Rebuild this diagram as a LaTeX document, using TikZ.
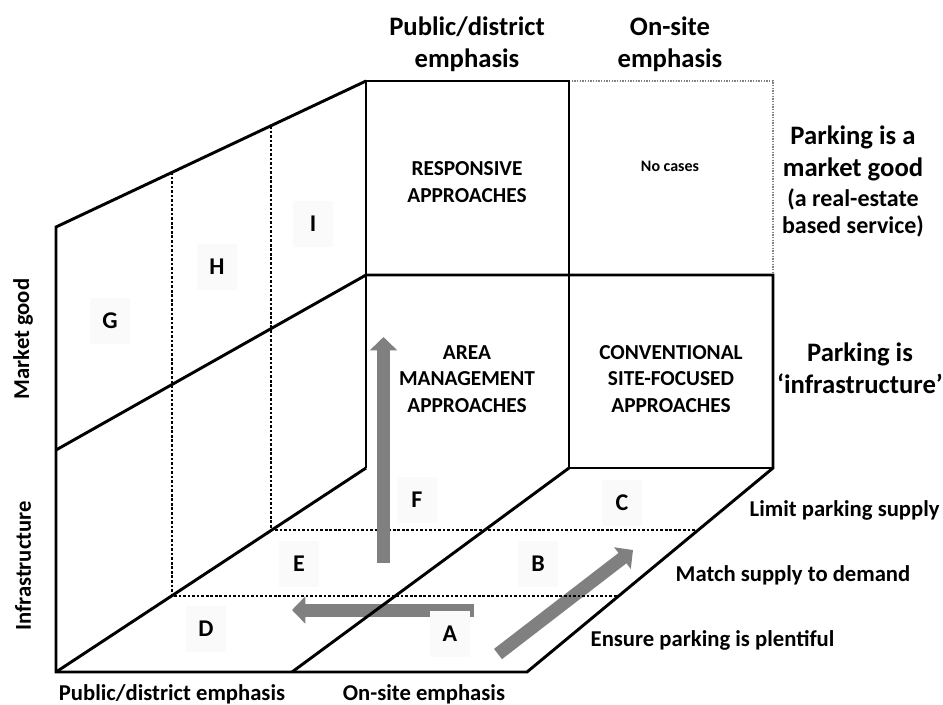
\documentclass[tikz,border=0pt]{standalone}
\usepackage{fontspec}
\setmainfont{Carlito}
\usetikzlibrary{arrows.meta}
\tikzset{
	wall/.style={line width=2.2pt, line join=miter},
	split/.style={line width=1.4pt, dash pattern=on 2pt off 1.4pt},
	faint split/.style={line width=0.8pt, gray, dash pattern=on 1pt off 1pt},
	push/.style={draw=gray, line width=9.75pt, -{Triangle[length=10pt,width=20pt]}},
	letter/.style={fill=gray!4, minimum width=30pt, minimum height=34pt, inner sep=0pt, font=\bfseries\fontsize{18}{20}\selectfont},
	cell/.style={align=center, font=\bfseries\fontsize{16}{20}\selectfont},
	head/.style={align=center, font=\bfseries\fontsize{20}{24}\selectfont},
	sub/.style={align=center, font=\bfseries\fontsize{18}{20}\selectfont},
	axis/.style={font=\bfseries\fontsize{17}{20}\selectfont},
}

\begin{document}
\begin{tikzpicture}[x=0.75pt, y=-0.75pt]
	\useasboundingbox (0,0) rectangle (943,704);
	\coordinate (ftl) at (366,81);
	\coordinate (ftm) at (569,81);
	\coordinate (ftr) at (773,81);
	\coordinate (fml) at (366,275);
	\coordinate (fmm) at (569,275);
	\coordinate (fmr) at (773,275);
	\coordinate (fbl) at (366,468);
	\coordinate (fbm) at (569,468);
	\coordinate (fbr) at (773,468);
	\coordinate (wtl) at (56,227);
	\coordinate (wml) at (56,450);
	\coordinate (wbl) at (56,672);
	\coordinate (gbm) at (292,672);
	\coordinate (gbr) at (527,672);
	\coordinate (lowl) at (172,596);
	\coordinate (lowr) at (619,596);
	\coordinate (lowt) at (172,172);
	\coordinate (highl) at (271,530);
	\coordinate (highr) at (698,530);
	\coordinate (hight) at (271,126);

	\coordinate (west0) at (474,610);
	\coordinate (west1) at (292,610);
	\coordinate (ne0) at (498,654);
	\coordinate (ne1) at (633,550);
	\coordinate (up0) at (383.5,563);
	\coordinate (up1) at (383.5,337);

	\draw[push] (west0) -- (west1);
	\draw[push] (ne0) -- (ne1);

	\draw[split] (lowt) -- (lowl) -- (lowr);
	\draw[split] (hight) -- (highl) -- (highr);
	\draw[faint split] (ftm) -- (ftr) -- (fmr);

	\draw[wall] (ftl) -- (wtl) -- (wbl) -- (gbr) -- (fbr) -- (fmr) -- (fml);
	\draw[wall] (fml) -- (wml);
	\draw[wall] (wbl) -- (fbl);
	\draw[wall] (gbm) -- (fbm);
	\draw[wall] (fbl) -- (ftl) -- (ftm) -- (fbm) -- (fbr);

	\draw[push] (up0) -- (up1);

	\node[head] (hpub) at (467,44) {Public/district\\emphasis};
	\node[head] (hon) at (670,44) {On-site\\emphasis};
	\node[head] (rmkt) at (853,153) {Parking is a\\market good};
	\node[sub] (rmktsub) at (853,213) {(a real-estate\\based service)};
	\node[head, inner xsep=0pt] (rinf) at (860,368) {Parking is\\‘infrastructure’};

	\node[cell] (resp) at (467,182) {RESPONSIVE\\APPROACHES};
	\node[font=\bfseries\fontsize{12}{14}\selectfont] (nocase) at (670,166) {No cases};
	\node[cell] (area) at (467,379) {AREA\\MANAGEMENT\\APPROACHES};
	\node[cell] (conv) at (671,379) {CONVENTIONAL\\SITE-FOCUSED\\APPROACHES};

	\node[axis, anchor=west] (lim) at (745,510) {Limit parking supply};
	\node[axis, anchor=west] (match) at (671,575) {Match supply to demand};
	\node[axis, anchor=west] (ensure) at (586,640) {Ensure parking is plentiful};

	\node[axis] (xpub) at (172,694) {Public/district emphasis};
	\node[axis] (xon) at (424,694) {On-site emphasis};
	\node[axis, rotate=90] (ymkt) at (23,339) {Market good};
	\node[axis, rotate=90] (yinf) at (23,566) {Infrastructure};

	\node[letter] (G) at (110,321) {G};
	\node[letter] (H) at (217,267) {H};
	\node[letter] (I) at (313,224) {I};
	\node[letter] (D) at (206,629) {D};
	\node[letter] (E) at (299,564) {E};
	\node[letter] (F) at (417,500) {F};
	\node[letter] (A) at (450,634) {A};
	\node[letter] (B) at (538,564) {B};
	\node[letter] (C) at (622,503) {C};
\end{tikzpicture}
\end{document}
